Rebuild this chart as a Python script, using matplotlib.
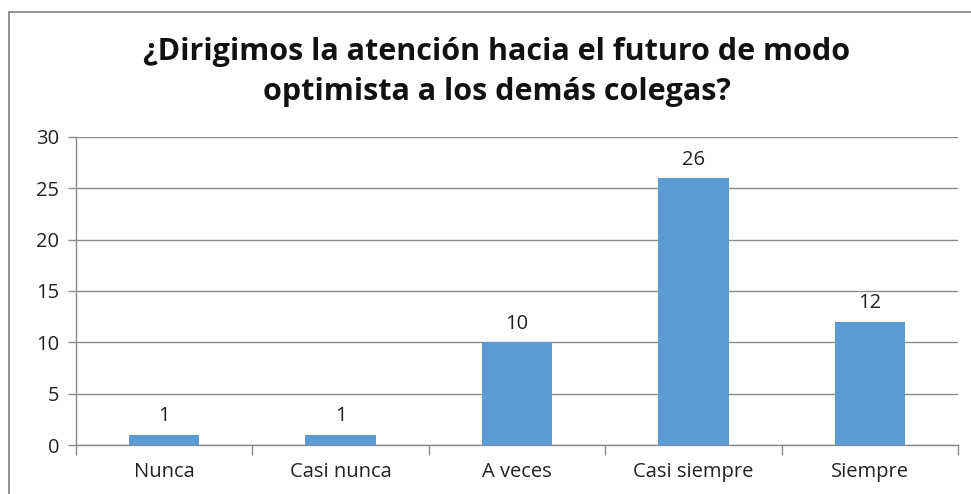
import matplotlib.pyplot as plt
from matplotlib.patches import Rectangle
import numpy as np

categories = ["Nunca", "Casi nunca", "A veces", "Casi siempre", "Siempre"]
values = [1, 1, 10, 26, 12]
title = "¿Dirigimos la atención hacia el futuro de modo\noptimista a los demás colegas?"

plt.rcParams['font.family'] = ['Open Sans', 'DejaVu Sans']

fig = plt.figure(figsize=(9.71, 4.94), dpi=100)
ax = fig.add_axes([76/971, 1 - 445/494, (958 - 76)/971, (445 - 137)/494])

grid_color = "#8c8c8c"
text_color = "#222222"
x = np.arange(len(categories))
bars = ax.bar(x, values, width=0.4, color="#5B9BD5", zorder=3)
for rect, v in zip(bars, values):
    ax.annotate(str(v), (rect.get_x() + rect.get_width()/2, v),
                xytext=(0, 6), textcoords="offset points",
                ha="center", va="bottom", fontsize=14.5, color=text_color)

ax.set_xlim(-0.5, len(categories) - 0.5)
ax.set_ylim(0, 30)
ax.set_yticks(range(0, 31, 5))
ax.yaxis.grid(True, color=grid_color, linewidth=1)
ax.set_axisbelow(True)

ax.set_xticks(x)
ax.set_xticklabels(categories)
ax.set_xticks(np.arange(-0.5, len(categories), 1), minor=True)
ax.tick_params(axis="x", which="major", length=0, pad=12, labelsize=14.5, labelcolor=text_color)
ax.tick_params(axis="x", which="minor", length=7, color=grid_color, width=1)
ax.tick_params(axis="y", length=6, color=grid_color, width=1, pad=6, labelsize=14.5, labelcolor=text_color)

for side in ["top", "right"]:
    ax.spines[side].set_visible(False)
for side in ["left", "bottom"]:
    ax.spines[side].set_color(grid_color)
    ax.spines[side].set_linewidth(1)

fig.text(497/971, 1 - 72/494, title, ha="center", va="center",
         fontsize=22, fontweight="bold", linespacing=1.42, color="#111111")

# outer chart frame
fig.patches.append(Rectangle((9/971, -0.1), 1.2, 1.1 - 12/494,
                             transform=fig.transFigure, fill=False,
                             edgecolor="#7f7f7f", linewidth=1.2))

plt.savefig("out.png", dpi=100)
